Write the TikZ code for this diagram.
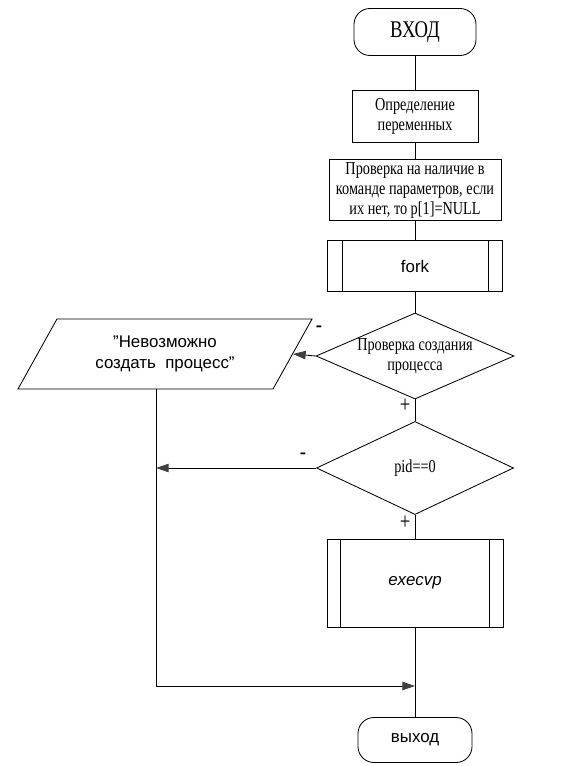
\documentclass[tikz,border=0pt]{standalone}
\usepackage{fontspec}
\setmainfont{Liberation Serif}[FakeStretch=0.78]
\setsansfont{Liberation Sans}
\usetikzlibrary{arrows.meta}
\usetikzlibrary{shapes.geometric}

\begin{document}
\begin{tikzpicture}[x=0.025cm, y=-0.025cm,
        block/.style={draw, line width=0.6pt, align=center, inner sep=1pt,
            font=\fontsize{13}{14.2}\selectfont},
        term/.style={block, rounded corners=0.4cm},
        subproc/.style={block, font=\sffamily\fontsize{12}{14}\selectfont},
        decision/.style={block, diamond, aspect=2.3, inner sep=0pt},
        io/.style={block, trapezium, trapezium left angle=45, trapezium right angle=135,
            trapezium stretches body, font=\sffamily\fontsize{12}{15}\selectfont},
        sign/.style={font=\fontsize{17}{17}\selectfont, inner sep=0pt},
        line/.style={line width=0.6pt},
        arr/.style={line, -{Triangle[length=9pt, width=6pt, color=black!75]}}]
        \useasboundingbox (0,0) rectangle (560,766);
        % main column
        \node[term, minimum width=3.05cm, minimum height=1.175cm,
            font=\fontsize{17}{17}\selectfont] (vhod) at (415,32) {ВХОД};
        \node[block, minimum width=3.15cm, minimum height=1.3cm] (opr) at (415,116)
            {Определение\\переменных};
        \node[block, minimum width=4.3cm, minimum height=1.525cm] (prov) at (415,190)
            {Проверка на наличие в\\команде параметров, если\\их нет, то p[1]=NULL};
        \node[subproc, minimum width=4.375cm, minimum height=1.275cm] (fork) at (415,266) {fork};
        \node[decision, minimum width=4.925cm, minimum height=2cm] (d1) at (415,356)
            {Проверка создания\\процесса};
        \node[decision, minimum width=4.925cm, minimum height=2.325cm] (d2) at (415,468) {pid==0};
        \node[subproc, minimum width=4.4cm, minimum height=2.2cm] (execvp) at (415,583)
            {\textit{execvp}};
        \node[term, minimum width=2.85cm, minimum height=1.125cm,
            font=\sffamily\fontsize{12}{12}\selectfont] (vyhod) at (415,740) {выход};
        % error message
        \node[io, minimum width=7.35cm, minimum height=1.75cm] (msg) at (165,354)
            {"Невозможно\\создать\ \ процесс"};
        % inner lines of the subprocess boxes
        \draw[line] ([xshift=0.375cm]fork.north west) -- ([xshift=0.375cm]fork.south west);
        \draw[line] ([xshift=-0.375cm]fork.north east) -- ([xshift=-0.375cm]fork.south east);
        \draw[line] ([xshift=0.35cm]execvp.north west) -- ([xshift=0.35cm]execvp.south west);
        \draw[line] ([xshift=-0.35cm]execvp.north east) -- ([xshift=-0.35cm]execvp.south east);
        % connectors
        \draw[line] (vhod) -- (opr);
        \draw[line] (opr) -- (prov);
        \draw[line] (prov) -- (fork);
        \draw[line] (fork) -- (d1);
        \draw[line] (d1) -- (d2);
        \draw[line] (d2) -- (execvp);
        \draw[line] (execvp) -- (vyhod);
        \draw[arr] (d1.west) -- (msg.east);
        \coordinate (join) at (156,686);
        \draw[arr] (msg.south -| join) |- (vyhod.north |- join);
        \draw[arr] (d2.west) -- (d2.west -| join);
        % branch signs
        \node[sign] (m1) at (319,329) {-};
        \node[sign] (p1) at (405,406) {+};
        \node[sign] (m2) at (303,456) {-};
        \node[sign] (p2) at (405,523) {+};
\end{tikzpicture}
\end{document}
